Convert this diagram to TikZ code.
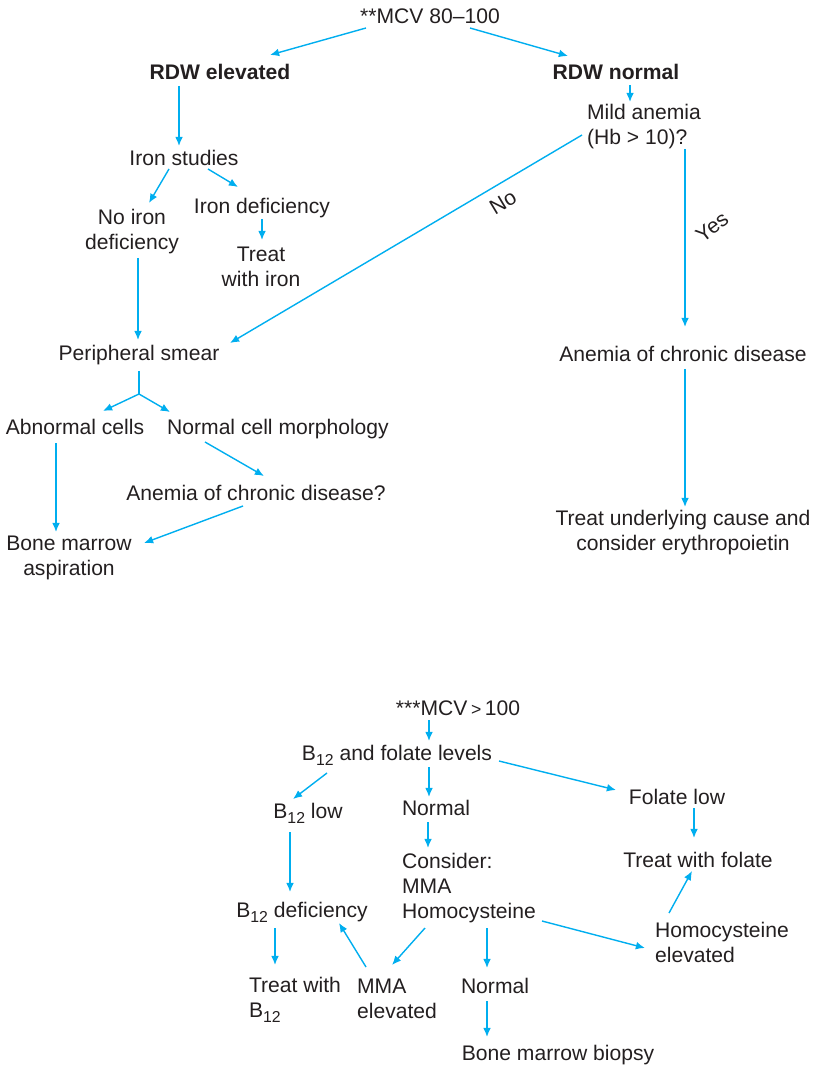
\documentclass[tikz,border=0pt]{standalone}
\usepackage{fontspec}
\setmainfont{Liberation Sans}
\usetikzlibrary{calc,arrows.meta}
\definecolor{flowcyan}{HTML}{00AEEF}
\definecolor{inkgray}{HTML}{231F20}
\newcommand{\Bsub}{B\raisebox{-0.45ex}{\fontsize{4.5}{5}\selectfont 12}}

\begin{document}
\begin{tikzpicture}[x=0.01cm,y=-0.01cm,
                    finding/.style={font=\fontsize{6}{7.1}\selectfont,text=inkgray,inner sep=0pt},
                    finding left/.style={finding,align=left},
                    finding centre/.style={finding,align=center},
                    heading/.style={finding,font=\fontsize{6}{7.1}\selectfont\bfseries},
                    flow/.style={flowcyan,line width=0.4pt,-{Latex[length=2.6pt,width=2.2pt]}},
                    flow line/.style={flowcyan,line width=0.4pt},
                    flow label/.style={finding}]
    \path[use as bounding box] (0,0) rectangle (815,1067);

    % MCV 80--100
    \node[finding] (mcvA) at (430,16) {**MCV 80--100};
    \node[heading] (rdwE) at (220,72) {RDW elevated};
    \node[heading] (rdwN) at (616,72) {RDW normal};
    \node[finding left] (mild) at (644,127) {Mild anemia\\(Hb > 10)?};
    \node[finding] (isd) at (184,158) {Iron studies};
    \node[finding centre] (noIron) at (132,232) {No iron\\deficiency};
    \node[finding] (ironDef) at (262,208) {Iron deficiency};
    \node[finding centre] (treatIron) at (261,267) {Treat\\with iron};
    \node[finding] (ps) at (139,355) {Peripheral smear};
    \node[finding] (acd) at (683,354) {Anemia of chronic disease};
    \node[finding] (abn) at (75,427) {Abnormal cells};
    \node[finding] (ncm) at (278,429) {Normal cell morphology};
    \node[finding] (acdq) at (256,493) {Anemia of chronic disease?};
    \node[finding centre] (bma) at (69,558) {Bone marrow\\aspiration};
    \node[finding centre] (tuc) at (683,533) {Treat underlying cause and\\consider erythropoietin};
    \coordinate (psFork) at ($(ps)+(0,39)$);

    \draw[flow] ($(mcvA)+(-64,12)$) -- ($(rdwE)+(50,-17)$);
    \draw[flow] ($(mcvA)+(40,12)$) -- ($(rdwN)+(-48,-16)$);
    \draw[flow] ($(rdwE)+(-41,14)$) -- ($(isd)+(-5,-12)$);
    \draw[flow] ($(rdwN)+(14,13)$) -- ($(mild)+(-14,-25)$);
    \draw[flow] ($(isd)+(-15,11)$) -- ($(noIron)+(17,-29)$);
    \draw[flow] ($(isd)+(24,11)$) -- ($(ironDef)+(-24,-21)$);
    \draw[flow] ($(ironDef)+(0,11)$) -- ($(treatIron)+(1,-27)$);
    \draw[flow] ($(mild)+(-62,8)$) -- ($(ps)+(91,-12)$);
    \draw[flow] ($(mild)+(41,22)$) -- ($(acd)+(2,-27)$);
    \draw[flow] ($(noIron)+(6,26)$) -- ($(ps)+(-1,-15)$);
    \draw[flow] ($(acd)+(2,15)$) -- ($(tuc)+(2,-26)$);
    \draw[flow line] ($(ps)+(0,16)$) -- (psFork);
    \draw[flow] (psFork) -- ($(abn)+(28,-16)$);
    \draw[flow] (psFork) -- ($(ncm)+(-108,-17)$);
    \draw[flow] ($(abn)+(-19,16)$) -- ($(bma)+(-13,-26)$);
    \draw[flow] ($(ncm)+(-73,13)$) -- ($(acdq)+(8,-17)$);
    \draw[flow] ($(acdq)+(-13,13)$) -- ($(bma)+(75,-15)$);
    \node[flow label,rotate=31] (no) at (503,202) {No};
    \node[flow label,rotate=37] (yes) at (712,227) {Yes};

    % MCV > 100
    \node[finding] (mcvB) at (458,708) {***MCV\,{\fontsize{5}{6}\selectfont>}\,100};
    \node[finding] (b12f) at (397,755) {\Bsub{} and folate levels};
    \node[finding] (b12low) at (308,813) {\Bsub{} low};
    \node[finding] (normA) at (436,808) {Normal};
    \node[finding] (folLow) at (677,797) {Folate low};
    \node[finding left] (consider) at (469,888) {Consider:\\MMA\\Homocysteine};
    \node[finding] (treatFol) at (698,860) {Treat with folate};
    \node[finding] (b12def) at (302,912) {\Bsub{} deficiency};
    \node[finding left] (homEl) at (722,942) {Homocysteine\\elevated};
    \node[finding left] (treatB12) at (295,1000) {Treat with\\\Bsub};
    \node[finding left] (mmaEl) at (397,999) {MMA\\elevated};
    \node[finding] (normB) at (495,986) {Normal};
    \node[finding] (bmb) at (558,1055) {Bone marrow biopsy};

    \draw[flow] ($(mcvB)+(-29,12)$) -- ($(b12f)+(32,-14)$);
    \draw[flow] ($(b12f)+(-70,18)$) -- ($(b12low)+(-15,-14)$);
    \draw[flow] ($(b12f)+(32,12)$) -- ($(normA)+(-7,-11)$);
    \draw[flow] ($(b12f)+(102,6)$) -- ($(folLow)+(-61,-7)$);
    \draw[flow] ($(b12low)+(-18,19)$) -- ($(b12def)+(-12,-20)$);
    \draw[flow] ($(normA)+(-8,14)$) -- ($(consider)+(-41,-40)$);
    \draw[flow] ($(folLow)+(17,11)$) -- ($(treatFol)+(-4,-22)$);
    \draw[flow] ($(homEl)+(-53,-29)$) -- ($(treatFol)+(-6,11)$);
    \draw[flow] ($(consider)+(73,33)$) -- ($(homEl)+(-77,6)$);
    \draw[flow] ($(b12def)+(-27,16)$) -- ($(treatB12)+(-20,-35)$);
    \draw[flow] ($(consider)+(-44,40)$) -- ($(mmaEl)+(-5,-34)$);
    \draw[flow] ($(mmaEl)+(-31,-32)$) -- ($(b12def)+(37,11)$);
    \draw[flow] ($(consider)+(18,40)$) -- ($(normB)+(-8,-18)$);
    \draw[flow] ($(normB)+(-8,15)$) -- ($(bmb)+(-71,-18)$);
\end{tikzpicture}
\end{document}
